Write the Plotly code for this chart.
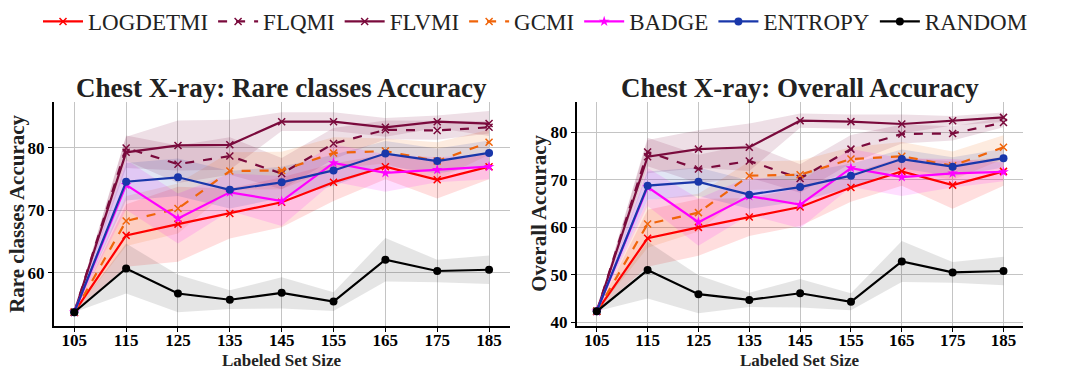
import plotly.graph_objects as go

x_sizes = [105, 115, 125, 135, 145, 155, 165, 175, 185]
x_ticks = [105, 115, 125, 135, 145, 155, 165, 175, 185]

series_names = ["LOGDETMI", "FLQMI", "FLVMI", "GCMI", "BADGE", "ENTROPY", "RANDOM"]

# Rare classes accuracy (mean)
rare_logdetmi = [53.7, 66.0, 67.8, 69.5, 71.3, 74.5, 77.0, 74.9, 77.0]
rare_flqmi    = [53.7, 80.0, 77.4, 78.7, 75.9, 80.7, 82.9, 82.8, 83.3]
rare_flvmi    = [53.7, 79.3, 80.4, 80.5, 84.2, 84.2, 83.3, 84.2, 83.9]
rare_gcmi     = [53.7, 68.3, 70.3, 76.3, 76.4, 79.2, 79.5, 77.9, 80.9]
rare_badge    = [53.7, 74.1, 68.7, 72.9, 71.5, 77.6, 76.0, 76.5, 77.0]
rare_entropy  = [53.7, 74.6, 75.3, 73.3, 74.5, 76.4, 79.1, 77.9, 79.2]
rare_random   = [53.7, 60.7, 56.7, 55.7, 56.8, 55.4, 62.1, 60.3, 60.5]

# Rare classes accuracy (std, shaded band)
rare_logdetmi_sd = [0, 5.0, 6.0, 4.0, 4.0, 3.0, 2.0, 3.0, 2.0]
rare_flqmi_sd    = [0, 2.0, 3.0, 3.0, 2.5, 2.5, 1.5, 1.5, 1.0]
rare_flvmi_sd    = [0, 2.5, 4.0, 4.0, 1.5, 1.5, 1.5, 1.0, 2.0]
rare_gcmi_sd     = [0, 4.0, 4.0, 3.0, 3.0, 2.5, 2.0, 3.0, 2.0]
rare_badge_sd    = [0, 4.0, 4.0, 3.0, 4.0, 3.0, 3.0, 2.0, 2.0]
rare_entropy_sd  = [0, 3.0, 3.0, 3.0, 2.5, 2.5, 2.0, 2.0, 2.0]
rare_random_sd   = [0, 4.0, 3.0, 1.5, 2.5, 1.5, 3.5, 1.8, 2.3]

# Overall accuracy (mean)
all_logdetmi = [42.3, 57.7, 60.0, 62.2, 64.3, 68.4, 71.8, 68.9, 71.8]
all_flqmi    = [42.3, 75.9, 72.3, 74.0, 70.3, 76.5, 79.7, 79.8, 82.1]
all_flvmi    = [42.3, 74.9, 76.5, 76.9, 82.5, 82.3, 81.8, 82.5, 83.2]
all_gcmi     = [42.3, 60.7, 63.1, 70.9, 71.1, 74.4, 75.0, 73.0, 76.9]
all_badge    = [42.3, 68.5, 61.1, 66.6, 64.8, 72.5, 70.6, 71.4, 71.7]
all_entropy  = [42.3, 68.8, 69.6, 66.9, 68.5, 70.9, 74.4, 72.8, 74.6]
all_random   = [42.3, 51.0, 45.9, 44.7, 46.1, 44.3, 52.8, 50.5, 50.8]

# Overall accuracy (std, shaded band)
all_logdetmi_sd = [0, 6.0, 6.0, 4.0, 4.0, 3.0, 3.0, 5.0, 3.0]
all_flqmi_sd    = [0, 3.0, 3.0, 3.5, 3.0, 3.0, 2.0, 1.5, 1.0]
all_flvmi_sd    = [0, 3.5, 4.0, 5.0, 1.5, 1.5, 2.0, 1.0, 1.0]
all_gcmi_sd     = [0, 5.0, 4.0, 3.0, 3.0, 2.5, 3.0, 3.0, 2.5]
all_badge_sd    = [0, 4.0, 5.0, 4.0, 5.0, 4.0, 4.0, 3.0, 2.0]
all_entropy_sd  = [0, 3.0, 3.0, 3.0, 3.0, 2.5, 2.0, 2.0, 2.0]
all_random_sd   = [0, 6.0, 4.0, 1.5, 3.0, 1.8, 4.3, 2.2, 3.0]

colors = {
    "LOGDETMI": (255, 0, 0),
    "FLQMI": (122, 10, 60),
    "FLVMI": (122, 10, 60),
    "GCMI": (240, 100, 10),
    "BADGE": (255, 0, 255),
    "ENTROPY": (25, 55, 170),
    "RANDOM": (0, 0, 0),
}
styles = {
    "LOGDETMI": ("solid", "x-thin"),
    "FLQMI": ("dash", "x-thin"),
    "FLVMI": ("solid", "x-thin"),
    "GCMI": ("dash", "x-thin"),
    "BADGE": ("solid", "star"),
    "ENTROPY": ("solid", "circle"),
    "RANDOM": ("solid", "circle"),
}

rare = {
    "LOGDETMI": (rare_logdetmi, rare_logdetmi_sd),
    "FLQMI": (rare_flqmi, rare_flqmi_sd),
    "FLVMI": (rare_flvmi, rare_flvmi_sd),
    "GCMI": (rare_gcmi, rare_gcmi_sd),
    "BADGE": (rare_badge, rare_badge_sd),
    "ENTROPY": (rare_entropy, rare_entropy_sd),
    "RANDOM": (rare_random, rare_random_sd),
}
overall = {
    "LOGDETMI": (all_logdetmi, all_logdetmi_sd),
    "FLQMI": (all_flqmi, all_flqmi_sd),
    "FLVMI": (all_flvmi, all_flvmi_sd),
    "GCMI": (all_gcmi, all_gcmi_sd),
    "BADGE": (all_badge, all_badge_sd),
    "ENTROPY": (all_entropy, all_entropy_sd),
    "RANDOM": (all_random, all_random_sd),
}

SERIF = "Liberation Serif"

fig = go.Figure()

def add_panel(data, xa, ya, show_legend):
    for name in series_names:
        mean, sd = data[name]
        r, g, b = colors[name]
        up = [m + s for m, s in zip(mean, sd)]
        lo = [m - s for m, s in zip(mean, sd)]
        alpha = 0.1 if name == "RANDOM" else 0.13
        fig.add_trace(go.Scatter(
            x=x_sizes + x_sizes[::-1], y=up + lo[::-1],
            fill="toself", fillcolor=f"rgba({r},{g},{b},{alpha})",
            line=dict(width=0), mode="lines", hoverinfo="skip",
            showlegend=False, xaxis=xa, yaxis=ya))
    for name in series_names:
        mean, sd = data[name]
        r, g, b = colors[name]
        c = f"rgb({r},{g},{b})"
        dash, sym = styles[name]
        if sym == "x-thin":
            marker = dict(symbol=sym, size=7, color=c, line=dict(width=1.5, color=c))
        else:
            marker = dict(symbol=sym, size=8, color=c)
        fig.add_trace(go.Scatter(
            x=x_sizes, y=mean, mode="lines+markers", name=name,
            line=dict(color=c, width=2.2, dash=dash), marker=marker,
            showlegend=show_legend, xaxis=xa, yaxis=ya))

add_panel(rare, "x", "y", True)
add_panel(overall, "x2", "y2", False)

tick_font = dict(family=SERIF, size=17, color="black")
axis_common = dict(
    showgrid=True, gridcolor="#c4c4c4", gridwidth=1.2,
    showline=True, linecolor="black", linewidth=1.5,
    ticks="outside", ticklen=4, tickcolor="black",
    tickfont=tick_font, zeroline=False, mirror=False,
)

LX = [0.05, 0.476]
RX = [0.5385, 0.955]
YD = [0.1237, 0.7266]

fig.update_layout(
    width=1071, height=372,
    margin=dict(l=0, r=0, t=0, b=0, autoexpand=False),
    paper_bgcolor="white", plot_bgcolor="white",
    font=dict(family=SERIF, size=20, color="black"),
    xaxis=dict(domain=LX, range=[101, 189], tickvals=x_ticks, ticklabelstandoff=-6,
               ticktext=[f"<b>{t}</b>" for t in x_ticks], anchor="y", **axis_common),
    yaxis=dict(domain=YD, range=[51.5, 87.4], tickvals=[60, 70, 80],
               ticktext=["<b>60</b>", "<b>70</b>", "<b>80</b>"], anchor="x", **axis_common),
    xaxis2=dict(domain=RX, range=[101.06, 188.8], tickvals=x_ticks, ticklabelstandoff=-6,
                ticktext=[f"<b>{t}</b>" for t in x_ticks], anchor="y2", **axis_common),
    yaxis2=dict(domain=YD, range=[39.2, 86.5], tickvals=[40, 50, 60, 70, 80],
                ticktext=["<b>40</b>", "<b>50</b>", "<b>60</b>", "<b>70</b>", "<b>80</b>"],
                anchor="x2", **axis_common),
    legend=dict(orientation="h", x=0.5, xanchor="center", y=1.0, yanchor="top",
                font=dict(family=SERIF, size=23, color="#222"),
                itemwidth=40, tracegroupgap=0, bgcolor="rgba(0,0,0,0)"),
)

ann = []
title_font = dict(family=SERIF, size=27, color="#222")
lab_font = dict(family=SERIF, size=17, color="#222")
for dom, title in [(LX, "<b>Chest X-ray: Rare classes Accuracy</b>"),
                   (RX, "<b>Chest X-ray: Overall Accuracy</b>")]:
    cx = (dom[0] + dom[1]) / 2
    ann.append(dict(text=title, x=cx, y=0.763, xref="paper", yref="paper", showarrow=False,
                    font=title_font, xanchor="center", yanchor="middle"))
    ann.append(dict(text="<b>Labeled Set Size</b>", x=cx, y=1 - 360 / 372, xref="paper", yref="paper",
                    showarrow=False, font=lab_font, xanchor="center", yanchor="middle"))
ann.append(dict(text="<b>Rare classes Accuracy</b>", x=17 / 1071, y=(YD[0] + YD[1]) / 2, xref="paper",
                yref="paper", showarrow=False, font=dict(family=SERIF, size=21, color="#222"),
                textangle=-90, xanchor="center", yanchor="middle"))
ann.append(dict(text="<b>Overall Accuracy</b>", x=539 / 1071, y=(YD[0] + YD[1]) / 2, xref="paper",
                yref="paper", showarrow=False, font=dict(family=SERIF, size=21, color="#222"),
                textangle=-90, xanchor="center", yanchor="middle"))
fig.update_layout(annotations=ann)

fig.write_html("out.html")
